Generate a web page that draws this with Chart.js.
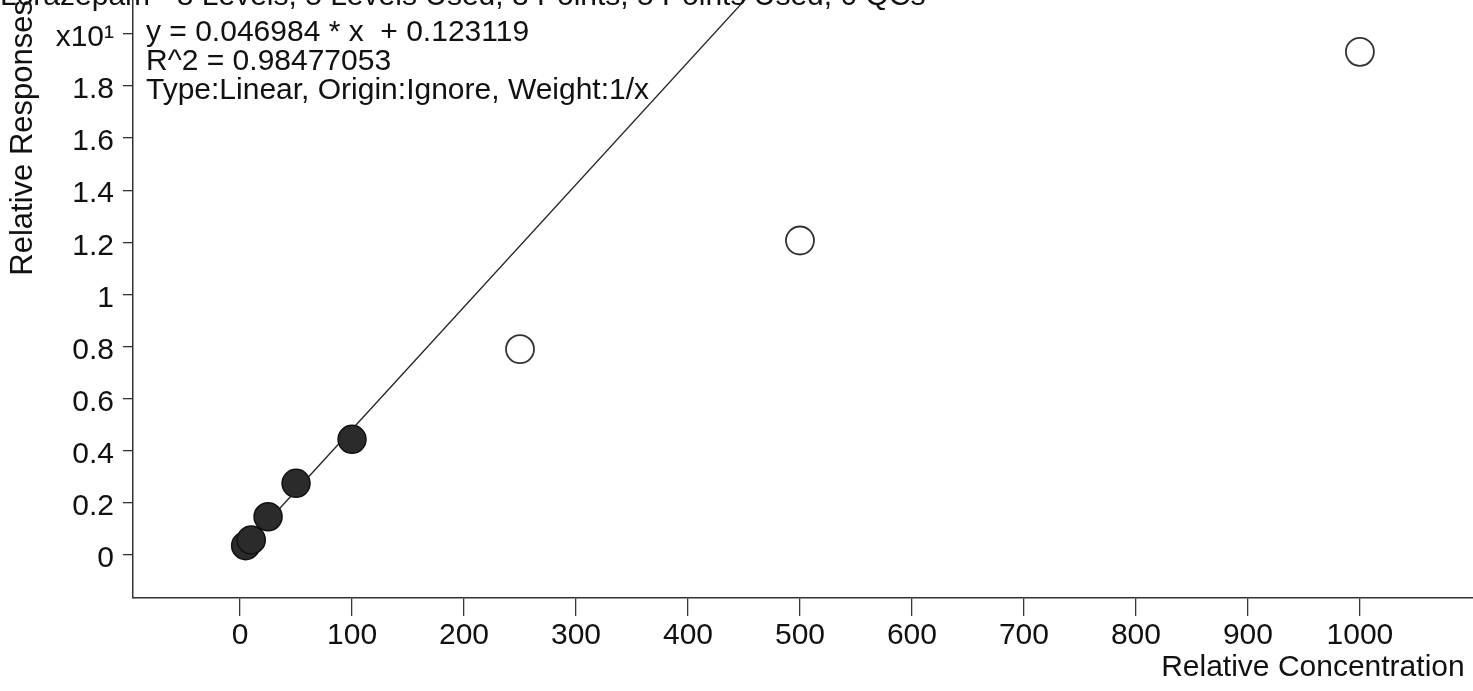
<!DOCTYPE html>
<html>
<head>
<meta charset="utf-8">
<script src="https://cdn.jsdelivr.net/npm/chart.js@4/dist/chart.umd.min.js"></script>
<style>
  html, body { margin: 0; padding: 0; background: #fff; }
</style>
</head>
<body>
<canvas id="myChart" width="1473" height="691"></canvas>
<script>
// calibration points (responses shown in x10^1 units, as on the axis)
const usedConc = [5, 10, 25, 50, 100];
const usedResp = [0.036, 0.058, 0.147, 0.275, 0.444];
const outlierConc = [250, 500, 1000];
const outlierResp = [0.790, 1.207, 1.931];

// fitted curve as printed on the chart
const fitSlope = 0.046984;
const fitIntercept = 0.123119;
const fitConc = [0, 1000];

const xTicks = [0, 100, 200, 300, 400, 500, 600, 700, 800, 900, 1000];
const yTicks = [0, 0.2, 0.4, 0.6, 0.8, 1, 1.2, 1.4, 1.6, 1.8, 2];

const headerText = 'Lorazepam - 8 Levels, 5 Levels Used, 8 Points, 5 Points Used, 0 QCs';
const fitText = [
  'y = 0.046984 * x  + 0.123119',
  'R^2 = 0.98477053',
  'Type:Linear, Origin:Ignore, Weight:1/x'
];

const FONT = "'Liberation Sans', Arial, sans-serif";
const INK = '#111';

const textPlugin = {
  id: 'fitText',
  afterDraw(chart) {
    const c = chart.ctx;
    c.save();
    c.fillStyle = INK;
    c.font = '30px ' + FONT;
    c.textAlign = 'left';
    c.textBaseline = 'alphabetic';
    // header sits mostly above the page edge, only its bottom shows
    c.fillText(headerText, 0, 5);
    fitText.forEach((t, i) => c.fillText(t, 146, 41 + i * 29));
    c.restore();
  }
};

// no extra room for half labels, the plot runs to the page edges
function noPad(s) {
  s.paddingTop = 0;
  s.paddingBottom = 0;
  s.paddingLeft = 0;
  s.paddingRight = 0;
}

function createMyChart() {
  const ctx = document.getElementById('myChart');

  new Chart(ctx, {
    type: 'scatter',
    data: {
      datasets: [{
        data: usedConc.map((x, i) => ({x: x, y: usedResp[i]})),
        backgroundColor: '#2b2b2b',
        borderColor: '#111',
        borderWidth: 1.5,
        pointRadius: 14,
        pointHoverRadius: 14
      }, {
        data: outlierConc.map((x, i) => ({x: x, y: outlierResp[i]})),
        backgroundColor: '#fff',
        borderColor: '#333',
        borderWidth: 1.8,
        pointRadius: 14,
        pointHoverRadius: 14
      }, {
        type: 'line',
        data: fitConc.map(x => ({x: x, y: (fitSlope * x + fitIntercept) / 10})),
        borderColor: '#222',
        borderWidth: 1.3,
        pointRadius: 0,
        fill: false
      }]
    },
    options: {
      responsive: false,
      animation: false,
      devicePixelRatio: 1,
      layout: { padding: 0, autoPadding: false },
      plugins: {
        legend: { display: false },
        tooltip: { enabled: false }
      },
      scales: {
        x: {
          type: 'linear',
          min: -95.6,
          max: 1101,
          afterFit: s => { s.height = 93; noPad(s); },
          afterBuildTicks: s => { s.ticks = xTicks.map(v => ({value: v})); },
          border: { color: '#333', width: 1.5 },
          grid: { drawOnChartArea: false, drawTicks: true, tickLength: 18, color: '#333', lineWidth: 1.3 },
          ticks: {
            color: INK,
            padding: 2,
            font: { size: 30, family: FONT },
            maxRotation: 0,
            callback: v => String(v)
          },
          title: {
            display: true,
            text: 'Relative Concentration ',
            align: 'end',
            color: INK,
            font: { size: 30, family: FONT },
            padding: { top: 0, bottom: 5 }
          }
        },
        y: {
          type: 'linear',
          min: -0.165,
          max: 2.13,
          afterFit: s => { s.width = 133; noPad(s); },
          afterBuildTicks: s => { s.ticks = yTicks.map(v => ({value: v})); },
          border: { color: '#333', width: 1.5 },
          grid: { drawOnChartArea: false, drawTicks: true, tickLength: 10, color: '#333', lineWidth: 1.3 },
          ticks: {
            color: INK,
            padding: 9,
            labelOffset: 4,
            font: { size: 30, family: FONT },
            callback: v => v === 2 ? 'x10\u00b9' : String(Math.round(v * 10) / 10)
          },
          title: {
            display: true,
            text: 'Relative Responses',
            align: 'end',
            color: INK,
            font: { size: 31, family: FONT },
            padding: { top: 5, bottom: 0 }
          }
        }
      }
    },
    plugins: [textPlugin]
  });
}

createMyChart();
</script>
</body>
</html>
